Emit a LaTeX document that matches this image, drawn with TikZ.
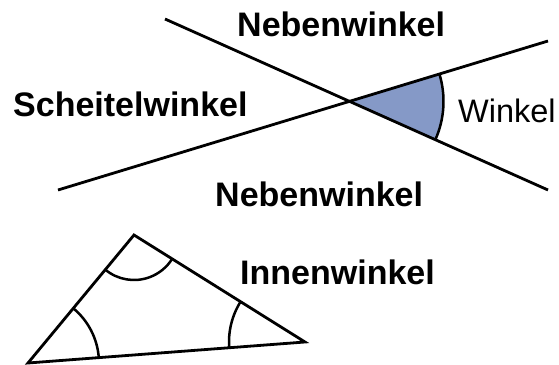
\documentclass[tikz,border=0pt]{standalone}
\usepackage{fontspec}
\setmainfont{Liberation Sans}
\usetikzlibrary{calc}
\definecolor{sectorblue}{RGB}{133,153,199}
\begin{document}
\begin{tikzpicture}[x=1pt,y=1pt,
  thickline/.style={line width=2.8pt, line cap=butt},
  arcline/.style={line width=2.5pt},
  boldlabel/.style={font=\fontsize{34}{40}\selectfont\bfseries, inner sep=0pt, anchor=base west},
  plainlabel/.style={font=\fontsize{32.5}{40}\selectfont, inner sep=0pt, anchor=base west}]
\useasboundingbox (0,0) rectangle (559,364);
% line endpoints
\coordinate (A1) at (165,345);
\coordinate (A2) at (548,174);
\coordinate (B1) at (58,174);
\coordinate (B2) at (548,323);
\coordinate (O) at (349.5,262.6);
% sector
\fill[sectorblue] (O) -- ($(O)+(16.9:94)$) arc[start angle=16.9, end angle=-24.05, radius=94] -- cycle;
\draw[thickline] (A1) -- (A2);
\draw[thickline] (B1) -- (B2);
\draw[arcline] ($(O)+(16.9:94)$) arc[start angle=16.9, end angle=-24.05, radius=94];
% triangle
\coordinate (L) at (28,1);
\coordinate (T) at (134,129);
\coordinate (R) at (305,22);
\draw[thickline, line join=miter] (L) -- (T) -- (R) -- cycle;
\draw[arcline] ($(L)+(4.3:71)$) arc[start angle=4.3, end angle=50.4, radius=71];
\draw[arcline] ($(T)+(230.4:45)$) arc[start angle=230.4, end angle=328, radius=45];
\draw[arcline] ($(R)+(148:76)$) arc[start angle=148, end angle=184.3, radius=76];
% labels
\node[boldlabel] (nw1) at (237,327) {Nebenwinkel};
\node[boldlabel] (sw) at (13,247) {Scheitelwinkel};
\node[plainlabel] (w) at (458,241) {Winkel};
\node[boldlabel] (nw2) at (215,157) {Nebenwinkel};
\node[boldlabel] (iw) at (240,79) {Innenwinkel};
\end{tikzpicture}
\end{document}
